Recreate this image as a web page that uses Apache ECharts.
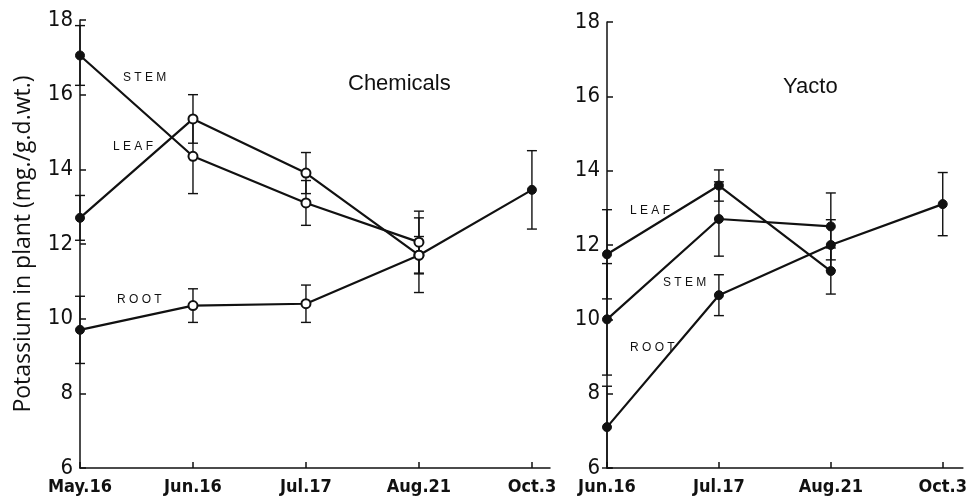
<!DOCTYPE html>
<html>
<head>
<meta charset="utf-8">
<script src="https://cdn.jsdelivr.net/npm/echarts@6/dist/echarts.min.js"></script>
<style>
  html, body { margin: 0; padding: 0; background: #fff; }
  #chart { width: 970px; height: 503px; }
</style>
</head>
<body>
<div id="chart"></div>
<script>
// Sampling dates for each treatment
const chemDates = ['May.16', 'Jun.16', 'Jul.17', 'Aug.21', 'Oct.3'];
const yactoDates = ['Jun.16', 'Jul.17', 'Aug.21', 'Oct.3'];

// Potassium content (mg/g dry weight), Chemicals treatment
const chemStem = [17.05, 14.35, 13.1, 12.05, null];
const chemLeaf = [12.7, 15.35, 13.9, 11.7, null];
const chemRoot = [9.7, 10.35, 10.4, 11.7, 13.45];
// half-widths of the error bars
const chemStemErr = [0.8, 1.0, 0.6, 0.83, null];
const chemLeafErr = [0.6, 0.65, 0.55, 1.0, null];
const chemRootErr = [0.9, 0.45, 0.5, 0.5, 1.05];

// Potassium content (mg/g dry weight), Yacto treatment
const yactoStem = [10.0, 12.7, 12.5, null];
const yactoLeaf = [11.75, 13.6, 11.3, null];
const yactoRoot = [7.1, 10.65, 12.0, 13.1];
const yactoStemErr = [1.5, 1.0, 0.9, null];
const yactoLeafErr = [1.2, 0.42, 0.62, null];
const yactoRootErr = [1.1, 0.55, 0.68, 0.85];

const yTicks = [6, 8, 10, 12, 14, 16, 18];

const INK = '#111';
const FONT = '"Liberation Sans", Arial, sans-serif';
const NARROW = '"Liberation Sans Narrow", "DejaVu Sans Condensed", "Liberation Sans", sans-serif';

function points(vals) {
  const out = [];
  vals.forEach((v, i) => { if (v != null) out.push([i, v]); });
  return out;
}
function errPoints(vals, errs) {
  const out = [];
  vals.forEach((v, i) => { if (v != null && errs[i] != null) out.push([i, v, errs[i]]); });
  return out;
}

function lineSeries(axisIdx, vals, hollowFrom, hollowTo) {
  const data = points(vals).map(p => {
    const hollow = p[0] >= hollowFrom && p[0] <= hollowTo;
    return {
      value: p,
      itemStyle: hollow ? { color: '#fff', borderColor: INK, borderWidth: 2 } : { color: INK, borderColor: INK, borderWidth: 1 }
    };
  });
  return {
    type: 'line',
    xAxisIndex: axisIdx,
    yAxisIndex: axisIdx,
    data: data,
    symbol: 'circle',
    symbolSize: 9,
    lineStyle: { color: INK, width: 2.2 },
    animation: false,
    z: 3
  };
}

function errSeries(axisIdx, vals, errs) {
  return {
    type: 'custom',
    xAxisIndex: axisIdx,
    yAxisIndex: axisIdx,
    data: errPoints(vals, errs),
    animation: false,
    z: 2,
    renderItem: function (params, api) {
      const x = api.value(0), y = api.value(1), e = api.value(2);
      const top = api.coord([x, y + e]);
      const bot = api.coord([x, y - e]);
      const hw = 5;
      const style = { stroke: INK, lineWidth: 1.4 };
      return {
        type: 'group',
        children: [
          { type: 'line', shape: { x1: top[0], y1: top[1], x2: bot[0], y2: bot[1] }, style: style },
          { type: 'line', shape: { x1: top[0] - hw, y1: top[1], x2: top[0] + hw, y2: top[1] }, style: style },
          { type: 'line', shape: { x1: bot[0] - hw, y1: bot[1], x2: bot[0] + hw, y2: bot[1] }, style: style }
        ]
      };
    }
  };
}

function xAxis(gridIdx, dates, maxVal) {
  const idx = dates.map((d, i) => i);
  return {
    type: 'value',
    gridIndex: gridIdx,
    min: 0,
    max: maxVal,
    splitLine: { show: false },
    axisLine: { lineStyle: { color: INK, width: 1.5 } },
    axisTick: { inside: true, length: 6, customValues: idx, lineStyle: { color: INK, width: 1.5 } },
    axisLabel: {
      customValues: idx,
      formatter: v => dates[Math.round(v)] || '',
      color: INK,
      fontFamily: NARROW,
      fontSize: 18,
      fontWeight: 'bold',
      margin: 10
    }
  };
}

function yAxis(gridIdx, withName) {
  const ax = {
    type: 'value',
    gridIndex: gridIdx,
    min: 6,
    max: 18,
    interval: 2,
    splitLine: { show: false },
    axisLine: { show: true, lineStyle: { color: INK, width: 1.5 } },
    axisTick: { show: true, inside: true, length: 6, lineStyle: { color: INK, width: 1.5 } },
    axisLabel: {
      formatter: v => (yTicks.indexOf(v) >= 0 ? String(v) : ''),
      color: INK,
      fontFamily: NARROW,
      fontSize: 22,
      margin: 7
    }
  };
  if (withName) {
    ax.name = 'Potassium in plant (mg./g.d.wt.)';
    ax.nameLocation = 'middle';
    ax.nameRotate = 90;
    ax.nameGap = 45;
    ax.nameTextStyle = { color: INK, fontFamily: '"Open Sans", sans-serif', fontSize: 23 };
  }
  return ax;
}

function tag(x, y, text) {
  return {
    type: 'text', left: x, top: y,
    style: { text: text, fill: INK, font: '12px ' + FONT }
  };
}

const chart = echarts.init(document.getElementById('chart'), null, { renderer: 'canvas' });
chart.setOption({
  backgroundColor: '#fff',
  animation: false,
  grid: [
    { left: 80, right: 420, top: 20, bottom: 35 },
    { left: 607, right: 7, top: 22, bottom: 35 }
  ],
  xAxis: [xAxis(0, chemDates, 4.16), xAxis(1, yactoDates, 3.18)],
  yAxis: [yAxis(0, true), yAxis(1, false)],
  title: [
    { text: 'Chemicals', left: 343, top: 68, textStyle: { color: INK, fontFamily: FONT, fontSize: 22, fontWeight: 'normal' } },
    { text: 'Yacto', left: 778, top: 71, textStyle: { color: INK, fontFamily: FONT, fontSize: 22, fontWeight: 'normal' } }
  ],
  graphic: [
    tag(123, 72, 'S T E M'),
    tag(113, 141, 'L E A F'),
    tag(117, 294, 'R O O T'),
    tag(630, 205, 'L E A F'),
    tag(663, 277, 'S T E M'),
    tag(630, 342, 'R O O T')
  ],
  series: [
    errSeries(0, chemStem, chemStemErr),
    errSeries(0, chemLeaf, chemLeafErr),
    errSeries(0, chemRoot, chemRootErr),
    lineSeries(0, chemStem, 1, 3),
    lineSeries(0, chemLeaf, 1, 3),
    lineSeries(0, chemRoot, 1, 3),
    errSeries(1, yactoStem, yactoStemErr),
    errSeries(1, yactoLeaf, yactoLeafErr),
    errSeries(1, yactoRoot, yactoRootErr),
    lineSeries(1, yactoStem, 99, 99),
    lineSeries(1, yactoLeaf, 99, 99),
    lineSeries(1, yactoRoot, 99, 99)
  ]
});
</script>
</body>
</html>
